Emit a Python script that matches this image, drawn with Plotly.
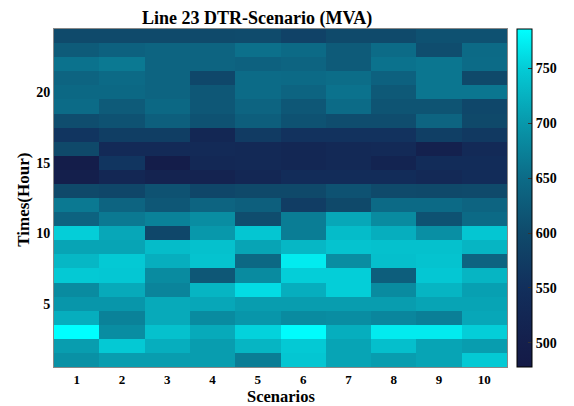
import plotly.graph_objects as go

scenarios = [1, 2, 3, 4, 5, 6, 7, 8, 9, 10]
hours = list(range(1, 25))

# DTR values (MVA), one list per hour (hour 1 first), one value per scenario
h01 = [692, 705, 705, 705, 670, 745, 712, 705, 712, 748]
h02 = [705, 748, 722, 705, 728, 748, 712, 738, 712, 705]
h03 = [786, 688, 740, 718, 755, 784, 722, 772, 772, 752]
h04 = [722, 675, 718, 685, 698, 685, 688, 680, 672, 715]
h05 = [698, 698, 718, 715, 705, 705, 705, 705, 712, 712]
h06 = [685, 718, 678, 728, 762, 722, 752, 685, 728, 708]
h07 = [748, 746, 685, 620, 685, 752, 752, 630, 746, 728]
h08 = [730, 748, 722, 742, 645, 772, 688, 738, 742, 640]
h09 = [712, 712, 735, 740, 712, 730, 742, 740, 740, 728]
h10 = [752, 715, 595, 700, 745, 670, 735, 722, 690, 745]
h11 = [638, 665, 675, 688, 605, 670, 715, 685, 612, 648]
h12 = [665, 640, 620, 640, 632, 575, 598, 648, 648, 640]
h13 = [598, 592, 612, 592, 598, 598, 612, 600, 598, 600]
h14 = [500, 525, 512, 512, 525, 540, 540, 540, 530, 540]
h15 = [490, 562, 490, 528, 530, 525, 530, 515, 540, 540]
h16 = [598, 535, 535, 535, 530, 525, 530, 535, 505, 535]
h17 = [562, 578, 578, 525, 572, 555, 555, 555, 580, 568]
h18 = [605, 612, 632, 612, 630, 612, 605, 605, 640, 598]
h19 = [650, 625, 645, 620, 640, 620, 650, 615, 615, 595]
h20 = [645, 645, 640, 620, 650, 640, 658, 622, 662, 662]
h21 = [640, 648, 640, 595, 650, 648, 652, 635, 662, 598]
h22 = [658, 665, 640, 640, 635, 640, 625, 658, 662, 650]
h23 = [625, 635, 640, 640, 655, 648, 625, 650, 605, 648]
h24 = [600, 600, 600, 600, 602, 585, 600, 600, 610, 610]

z = [h01, h02, h03, h04, h05, h06, h07, h08, h09, h10, h11, h12,
     h13, h14, h15, h16, h17, h18, h19, h20, h21, h22, h23, h24]

zmin, zmax = 478, 786
cb_ticks = [500, 550, 600, 650, 700, 750]

stops = [(478, "#141a47"), (500, "#141f4c"), (550, "#122f5c"), (600, "#0f4a6b"),
         (650, "#0c6b87"), (700, "#0898ab"), (750, "#04cbd6"), (786, "#00ffff")]
colorscale = [[(v - zmin) / (zmax - zmin), c] for v, c in stops]

serif = "Liberation Serif, Times New Roman, serif"
bold13 = dict(family=serif, size=13, color="black", weight="bold")
bold14 = dict(family=serif, size=14, color="black", weight="bold")

fig = go.Figure(go.Heatmap(
    x=scenarios, y=hours, z=z, zmin=zmin, zmax=zmax,
    colorscale=colorscale, zsmooth=False,
    colorbar=dict(
        x=1.0216, xanchor="left", xpad=0, y=0.5, yanchor="middle", ypad=0,
        len=1.0, lenmode="fraction", thickness=15, thicknessmode="pixels",
        outlinecolor="black", outlinewidth=1,
        tickvals=cb_ticks, ticks="inside", ticklen=4, tickcolor="#333",
        tickfont=bold14,
    ),
))

fig.update_layout(
    width=574, height=406,
    margin=dict(l=54, r=58, t=29, b=39),
    paper_bgcolor="white", plot_bgcolor="white",
    title=dict(text="Line 23 DTR-Scenario (MVA)", x=0.448, xanchor="center",
               y=1 - 18 / 406, yanchor="middle",
               font=dict(family=serif, size=18, color="black", weight="bold")),
    xaxis=dict(range=[0.5, 10.5], tickvals=scenarios, ticks="", showgrid=False,
               zeroline=False, showline=True, mirror=True, linecolor="#888",
               linewidth=1, tickfont=bold13),
    yaxis=dict(range=[0.5, 24.5], tickvals=[5, 10, 15, 20], ticks="", showgrid=False,
               zeroline=False, showline=True, mirror=True, linecolor="#888",
               linewidth=1, tickfont=bold14),
    annotations=[
        dict(text="Scenarios", xref="paper", yref="paper", x=0.5, y=-0.086,
             xanchor="center", yanchor="middle", showarrow=False,
             font=dict(family=serif, size=16.5, color="black", weight="bold")),
        dict(text="Times(Hour)", xref="paper", yref="paper", x=-0.069, y=0.494,
             xanchor="center", yanchor="middle", textangle=-90, showarrow=False,
             font=dict(family=serif, size=17, color="black", weight="bold")),
    ],
)

fig.write_html("out.html")
